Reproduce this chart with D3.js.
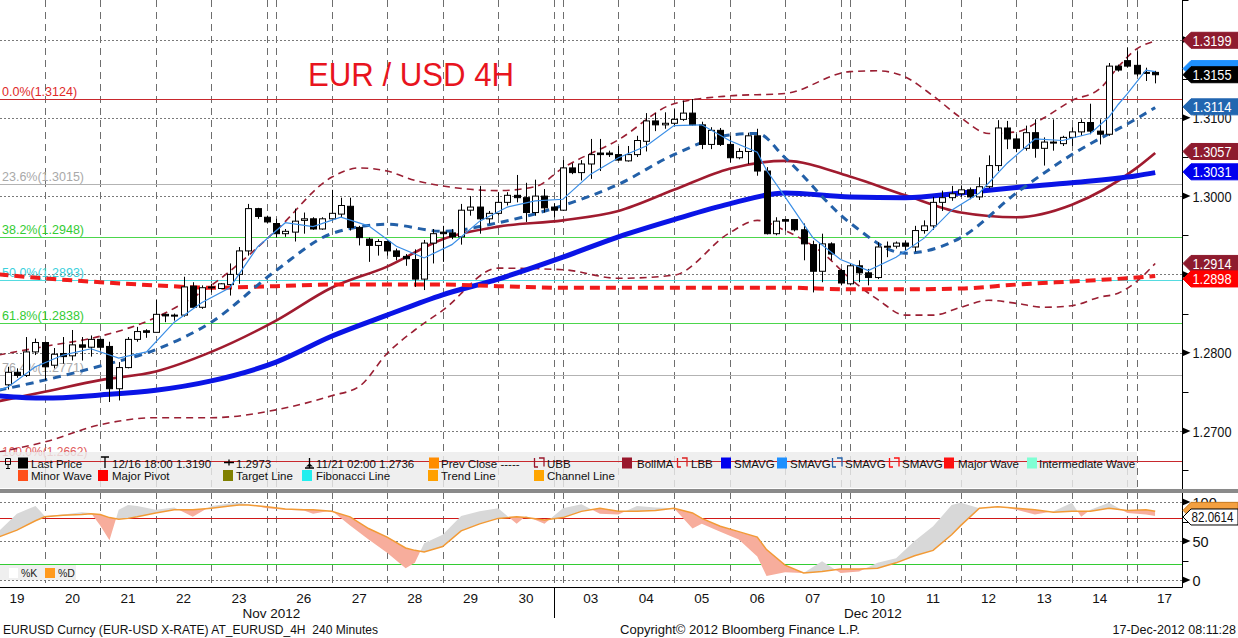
<!DOCTYPE html>
<html>
<head>
<meta charset="utf-8">
<script src="https://cdn.jsdelivr.net/npm/d3@7/dist/d3.min.js"></script>
<style>
html,body{margin:0;padding:0;background:#fff;overflow:hidden;}
svg{display:block;}
text{font-family:"Liberation Sans",Arial,sans-serif;}
</style>
</head>
<body>
<svg id="chart" width="1238" height="638"></svg>
<script>
// ================= DATA =================
const firstBar = -4; // bar index of first candle (index 0 = first bar of Nov 20)
const opens = [
1.2759,1.2775,1.2771,1.2801,1.2813,1.2784,1.2799,1.2796,1.2810,1.2807,
1.2817,1.2808,1.2754,1.2781,1.2817,1.2828,1.2826,1.2849,1.2848,1.2848,
1.2885,1.2858,1.2884,1.2882,1.2887,1.2900,1.2930,1.2984,1.2973,1.2965,
1.2952,1.2954,1.2969,1.2971,1.2958,1.2971,1.2977,1.2987,1.2960,1.2945,
1.2937,1.2942,1.2930,1.2923,1.2919,1.2894,1.2940,1.2954,1.2953,1.2948,
1.2982,1.2986,1.2971,1.2978,1.2992,1.3001,1.2998,1.2979,1.3000,1.2986,
1.2982,1.3036,1.3030,1.3041,1.3055,1.3055,1.3053,1.3045,1.3053,1.3070,
1.3096,1.3091,1.3093,1.3098,1.3106,1.3091,1.3066,1.3084,1.3066,1.3049,
1.3057,1.3077,1.3032,1.2952,1.2970,1.2970,1.2957,1.2938,1.2904,1.2939,
1.2905,1.2888,1.2911,1.2902,1.2896,1.2935,1.2936,1.2940,1.2935,1.2956,
1.2962,1.2992,1.2998,1.3003,1.3008,1.2999,1.3012,1.3039,1.3087,1.3073,
1.3061,1.3081,1.3061,1.3069,1.3067,1.3075,1.3082,1.3094,1.3083,1.3079,
1.3166,1.3173,1.3167,1.3158,1.3158];
const highs = [
1.2782,1.2780,1.2820,1.2818,1.2814,1.2806,1.2820,1.2829,1.2820,1.2822,
1.2818,1.2814,1.2788,1.2820,1.2833,1.2830,1.2868,1.2850,1.2850,1.2897,
1.2890,1.2886,1.2888,1.2889,1.2914,1.2935,1.2990,1.2985,1.2975,1.2971,
1.2958,1.2984,1.2979,1.2973,1.2973,1.3008,1.2998,1.2998,1.2962,1.2947,
1.2945,1.2943,1.2933,1.2926,1.2932,1.2944,1.2958,1.2962,1.2958,1.2990,
1.3000,1.3013,1.2981,1.3005,1.3005,1.3027,1.3017,1.3021,1.3009,1.2991,
1.3046,1.3042,1.3046,1.3073,1.3073,1.3058,1.3064,1.3064,1.3077,1.3106,
1.3106,1.3107,1.3111,1.3122,1.3124,1.3095,1.3088,1.3087,1.3077,1.3061,
1.3081,1.3086,1.3037,1.2973,1.2971,1.2970,1.2965,1.2943,1.2952,1.2941,
1.2907,1.2914,1.2918,1.2907,1.2941,1.2942,1.2942,1.2943,1.2962,1.2969,
1.2999,1.3007,1.3013,1.3013,1.3011,1.3024,1.3052,1.3097,1.3096,1.3079,
1.3090,1.3098,1.3075,1.3098,1.3077,1.3088,1.3098,1.3118,1.3098,1.3170,
1.3168,1.3190,1.3185,1.3164,1.3160];
const lows = [
1.2753,1.2768,1.2769,1.2797,1.2765,1.2780,1.2786,1.2790,1.2790,1.2795,
1.2803,1.2737,1.2739,1.2780,1.2814,1.2819,1.2826,1.2839,1.2841,1.2846,
1.2858,1.2856,1.2877,1.2881,1.2873,1.2888,1.2924,1.2971,1.2965,1.2947,
1.2948,1.2942,1.2952,1.2957,1.2957,1.2969,1.2973,1.2956,1.2937,1.2916,
1.2924,1.2924,1.2918,1.2911,1.2884,1.2880,1.2914,1.2916,1.2945,1.2938,
1.2975,1.2952,1.2965,1.2975,1.2988,1.2992,1.2967,1.2975,1.2979,1.2973,
1.2981,1.3028,1.3020,1.3022,1.3032,1.3050,1.3045,1.3044,1.3050,1.3057,
1.3083,1.3086,1.3090,1.3096,1.3090,1.3060,1.3060,1.3064,1.3043,1.3047,
1.3041,1.3026,1.2951,1.2950,1.2956,1.2955,1.2918,1.2877,1.2890,1.2918,
1.2886,1.2886,1.2890,1.2886,1.2894,1.2922,1.2933,1.2930,1.2929,1.2952,
1.2957,1.2981,1.2994,1.2999,1.2996,1.2995,1.3010,1.3032,1.3060,1.3056,
1.3058,1.3049,1.3039,1.3058,1.3064,1.3064,1.3077,1.3079,1.3066,1.3077,
1.3159,1.3164,1.3153,1.3147,1.3144];
const closes = [
1.2775,1.2771,1.2801,1.2813,1.2782,1.2798,1.2795,1.2810,1.2807,1.2817,
1.2807,1.2754,1.2781,1.2817,1.2827,1.2826,1.2849,1.2847,1.2847,1.2884,
1.2858,1.2883,1.2884,1.2888,1.2900,1.2930,1.2984,1.2974,1.2967,1.2952,
1.2955,1.2968,1.2971,1.2958,1.2971,1.2978,1.2988,1.2960,1.2947,1.2937,
1.2942,1.2930,1.2923,1.2920,1.2894,1.2940,1.2952,1.2952,1.2948,1.2982,
1.2986,1.2971,1.2978,1.2992,1.3001,1.2998,1.2979,1.3000,1.2985,1.2982,
1.3036,1.3030,1.3041,1.3053,1.3053,1.3053,1.3046,1.3053,1.3071,1.3096,
1.3091,1.3093,1.3098,1.3106,1.3091,1.3066,1.3084,1.3066,1.3049,1.3057,
1.3077,1.3032,1.2952,1.2968,1.2968,1.2957,1.2939,1.2904,1.2939,1.2926,
1.2889,1.2911,1.2902,1.2896,1.2935,1.2936,1.2940,1.2936,1.2956,1.2962,
1.2992,1.2998,1.3003,1.3008,1.2999,1.3012,1.3039,1.3087,1.3073,1.3061,
1.3081,1.3061,1.3069,1.3068,1.3075,1.3082,1.3094,1.3083,1.3079,1.3166,
1.3161,1.3166,1.3156,1.3157,1.3155];

// x axis
const dayLabels = ["19","20","21","22","23","26","27","28","29","30","03","04","05","06","07","10","11","12","13","14","17"];
const dayStarts = [-6,0,6,12,18,25,31,37,43,49,56,62,68,74,80,87,93,99,105,111,118];
const sundayBars = [24,55,86,117];
const monthLabels = ["Nov 2012","Dec 2012"];
const monthStart = [-6,55];
const monthEnd = [55,124];

// y axes
const priceTicks = [1.27,1.28,1.29,1.30,1.31,1.32];
const priceTickLabels = ["1.2700","1.2800","1.2900","1.3000","1.3100","1.3200"];
const priceMinorTicks = [1.265,1.275,1.285,1.295,1.305,1.315,1.325];
const stochTicks = [0,50,100];
const stochTickLabels = ["0","50","100"];
const stochMinorTicks = [25,75];
const stochBands = [80,20];

// Fibonacci retracement
const fibNames = ["0.0%","23.6%","38.2%","50.0%","61.8%","76.4%","100.0%"];
const fibPrices = [1.3124,1.3015,1.2948,1.2893,1.2838,1.2771,1.2662];

// Studies (at bar indices)
const maIdx = [-5,0,6,12,18,25,31,37,43,49,56,62,68,74,80,87,93,99,105,111,118,120];
const smaLong = [1.2745,1.2742,1.2746,1.2752,1.2764,1.2788,1.2821,1.2848,1.2874,1.2894,1.2922,1.2948,1.2970,1.2990,1.3004,1.2999,1.2998,1.3004,1.3011,1.3017,1.3026,1.3030];
const bollMA = [1.2738,1.2750,1.2765,1.2776,1.2801,1.2841,1.2883,1.2910,1.2945,1.2961,1.2969,1.2981,1.3008,1.3035,1.3045,1.3025,1.3001,1.2979,1.2973,1.2989,1.3036,1.3055];
const smaRed = [1.2900,1.2895,1.2890,1.2886,1.2883,1.2885,1.2887,1.2887,1.2887,1.2885,1.2883,1.2883,1.2883,1.2883,1.2883,1.2881,1.2881,1.2882,1.2887,1.2891,1.2896,1.2898];

const midIdx = [-5,0,6,12,18,25,31,37,43,49,56,62,68,74,77,80,87,93,99,105,111,118,120];
const smaMid = [1.2752,1.2765,1.2783,1.2804,1.2839,1.2905,1.2952,1.2964,1.2955,1.2966,1.2988,1.3015,1.3053,1.3078,1.3080,1.3049,1.2966,1.2927,1.2947,1.3004,1.3053,1.3099,1.3113];

const ubbIdx = [-5,0,6,12,18,25,31,34,37,40,43,49,53,56,62,68,74,80,87,90,93,96,99,102,105,108,111,114,116,118,120];
const ubb = [1.2797,1.2808,1.2821,1.2845,1.2886,1.2956,1.3024,1.3036,1.3032,1.3020,1.3013,1.3007,1.3012,1.3036,1.3072,1.3118,1.3128,1.3131,1.3159,1.3160,1.3152,1.3128,1.3100,1.3080,1.3082,1.3100,1.3122,1.3137,1.3165,1.3188,1.3198];

const lbbIdx = [-5,0,6,12,18,25,31,34,37,40,43,49,56,62,68,74,77,80,84,87,90,93,96,99,102,105,108,111,114,116,118,120];
const lbb = [1.2673,1.2686,1.2708,1.2717,1.2717,1.2727,1.2745,1.2757,1.2799,1.2829,1.2854,1.2908,1.2906,1.2895,1.2899,1.2953,1.2969,1.2956,1.2928,1.2895,1.2868,1.2848,1.2848,1.2858,1.2867,1.2863,1.2858,1.2860,1.2871,1.2876,1.2891,1.2914];

const fastIdx = [-5,-4,-1,2,5,8,11,14,17,20,23,26,29,32,35,38,41,44,47,50,53,56,59,62,65,68,71,74,77,78,80,83,86,89,92,95,98,101,104,107,110,113,115,116,117,119,120];
const smaFast = [1.2752,1.2756,1.2782,1.2797,1.2805,1.2793,1.2801,1.2839,1.2864,1.2883,1.2935,1.2966,1.2961,1.2973,1.2962,1.2936,1.2921,1.2938,1.2968,1.2986,1.2994,1.2996,1.3028,1.3049,1.3064,1.3090,1.3091,1.3071,1.3056,1.3033,1.2999,1.2947,1.2919,1.2905,1.2922,1.2946,1.2982,1.3004,1.3042,1.3073,1.3071,1.3080,1.3101,1.3117,1.3131,1.3161,1.3159];

// Stochastics
const stochIdx = [-5,-3,-1,0,2,4,5,6,7,8,9,10,12,14,16,18,20,21,22,24,26,28,29,31,33,35,37,39,40,41,43,45,47,49,51,52,54,56,58,60,62,64,66,68,70,71,73,75,77,78,80,82,84,86,88,90,92,94,96,98,99,101,103,105,107,109,111,112,113,115,117,119,120];
const stochD = [55,64,76,81,83,84,85,84,80,78, 79,81,86,90,90,92,95,96,96,94, 91,90,90,88,81,66,55,41,38,36, 43,63,72,79,81,80,77,80,88,92, 88,88,89,92,86,79,69,62,55,39, 19,9,11,14,14,15,22,31,38,58, 70,92,94,92,90,87,88,88,88,92, 89,90,88];
const stochK = [62,85,95,82,84,87,86,70,51,90, 96,95,90,93,81,95,98,99,97,92, 90,89,85,89,70,52,35,15,22,47, 58,82,88,92,72,82,72,92,97,85, 84,95,93,92,66,72,62,52,30,5, 10,9,24,9,11,22,28,50,69,96, 99,92,95,90,84,88,99,81,90,99, 86,84,82.0614];

// Right-side value tags
const hiddenTagValue = 1.3159;           // SMAVG (fast) tag, mostly hidden under last price
const tagValues = [1.3199,1.3155,1.3114,1.3057,1.3031,1.2914,1.2898];
const tagFills  = ["#8e1b2e","#000000","#2166b0","#8e1b2e","#0000ee","#8e1b2e","#ff0000"];

// Legend entries
const legend1Text = ["Last Price","12/16 18:00 1.3190","1.2973","11/21 02:00 1.2736","Prev Close -----","UBB","BollMA","LBB","SMAVG","SMAVG","SMAVG","SMAVG","Major Wave","Intermediate Wave"];
const legend2Text = ["Minor Wave","Major Pivot","Target Line","Fibonacci Line","Trend Line","Channel Line"];

// ================= LAYOUT / DRAW =================
const svg = d3.select("#chart");
const AX = 1182.5;
const x = d3.scaleLinear().domain([0,118]).range([44.7,1136.7]);
const y = d3.scaleLinear().domain([1.27,1.32]).range([431,39.5]);
const ys = d3.scaleLinear().domain([0,100]).range([580,502]);
const snap = v => Math.round(v)+0.5;

const defs = svg.append("defs");
defs.append("clipPath").attr("id","cm").append("rect").attr("x",0).attr("y",0).attr("width",AX).attr("height",489);
defs.append("clipPath").attr("id","cl").append("rect").attr("x",0).attr("y",493).attr("width",AX).attr("height",94);

svg.append("rect").attr("width",1238).attr("height",638).attr("fill","#fff");

svg.append("g").selectAll("line").data(priceTicks).join("line")
  .attr("x1",0).attr("x2",AX).attr("y1",d=>snap(y(d))).attr("y2",d=>snap(y(d)))
  .attr("stroke","#7a7a7a").attr("stroke-dasharray","2,2");
svg.append("g").selectAll("line").data(stochTicks).join("line")
  .attr("x1",0).attr("x2",AX).attr("y1",d=>snap(ys(d))).attr("y2",d=>snap(ys(d)))
  .attr("stroke","#7a7a7a").attr("stroke-dasharray","2,2");

const gridIdx = dayStarts.filter(d=>d>=0).concat(sundayBars);
svg.append("g").selectAll("line").data(gridIdx).join("line")
  .attr("x1",d=>snap(x(d))).attr("x2",d=>snap(x(d))).attr("y1",0).attr("y2",587)
  .attr("stroke","#6e6e6e").attr("stroke-dasharray","7,5");

// Fibonacci lines + labels
const fibLine = ["#c8282d","#b3b3b3","#4cd64c","#55dbe0","#4cd64c","#b3b3b3","#c8282d"];
const fibTxt  = ["#e02a2a","#a9a9a9","#33cc33","#3cd0dc","#33cc33","#a9a9a9","#e05a5a"];
const fg = svg.append("g");
fg.selectAll("line").data(fibPrices.slice(0,6)).join("line")
  .attr("x1",0).attr("x2",AX).attr("y1",d=>snap(y(d))).attr("y2",d=>snap(y(d)))
  .attr("stroke",(d,i)=>fibLine[i]).attr("stroke-width",1);
fg.selectAll("text").data(fibPrices).join("text")
  .attr("x",2).attr("y",(d,i)=>y(d)-(i===6?5:3)).attr("font-size",(d,i)=>i===6?12:12.5)
  .attr("fill",(d,i)=>fibTxt[i])
  .text((d,i)=>fibNames[i]+"("+d3.format(".4f")(d)+")");

// Title
svg.append("text").attr("x",308).attr("y",86).attr("font-size",34).attr("fill","#e8141e")
  .attr("textLength",206).attr("lengthAdjust","spacingAndGlyphs").text("EUR / USD 4H");

// ---- main plot content ----
const gm = svg.append("g").attr("clip-path","url(#cm)");
const pts = (idx,vals)=>idx.map((d,i)=>[d,vals[i]]);
const lineP = d3.line().x(d=>x(d[0])).y(d=>y(d[1])).curve(d3.curveMonotoneX);
const lineLin = d3.line().x(d=>x(d[0])).y(d=>y(d[1]));

gm.append("path").attr("d",lineP(pts(lbbIdx,lbb))).attr("fill","none").attr("stroke","#9a1f33").attr("stroke-width",1.6).attr("stroke-dasharray","7,5");
gm.append("path").attr("d",lineP(pts(ubbIdx,ubb))).attr("fill","none").attr("stroke","#9a1f33").attr("stroke-width",1.6).attr("stroke-dasharray","7,5");
gm.append("path").attr("d",lineP(pts(maIdx,bollMA))).attr("fill","none").attr("stroke","#a01b2f").attr("stroke-width",2.6);
gm.append("path").attr("d",lineP(pts(maIdx,smaLong))).attr("fill","none").attr("stroke","#0a14e6").attr("stroke-width",5);
gm.append("path").attr("d",lineP(pts(maIdx,smaRed))).attr("fill","none").attr("stroke","#f01c1c").attr("stroke-width",4).attr("stroke-dasharray","10,6");
gm.append("path").attr("d",lineP(pts(midIdx,smaMid))).attr("fill","none").attr("stroke","#2360a8").attr("stroke-width",3).attr("stroke-dasharray","8,6");

// candles
const bars = opens.map((o,k)=>({i:firstBar+k,o,h:highs[k],l:lows[k],c:closes[k]}));
const cg = gm.append("g");
cg.selectAll("line").data(bars).join("line")
  .attr("x1",d=>snap(x(d.i))).attr("x2",d=>snap(x(d.i)))
  .attr("y1",d=>y(d.h)).attr("y2",d=>y(d.l)).attr("stroke","#000").attr("stroke-width",1);
cg.selectAll("rect").data(bars).join("rect")
  .attr("x",d=>Math.round(x(d.i))-2.5).attr("width",6)
  .attr("y",d=>y(Math.max(d.o,d.c))).attr("height",d=>Math.max(1,Math.abs(y(d.o)-y(d.c))))
  .attr("fill",d=>d.c>=d.o?"#fff":"#000").attr("stroke","#000").attr("stroke-width",1);

gm.append("path").attr("d",lineLin(pts(fastIdx,smaFast))).attr("fill","none").attr("stroke","#3a8ee6").attr("stroke-width",1.2);

// ---- legend ----
svg.append("rect").attr("x",0).attr("y",452).attr("width",1137).attr("height",36).attr("fill","rgba(236,236,236,0.82)");
svg.append("line").attr("x1",0).attr("x2",AX).attr("y1",snap(y(fibPrices[6]))).attr("y2",snap(y(fibPrices[6])))
  .attr("stroke",fibLine[6]).attr("stroke-width",1);

const lg = svg.append("g").attr("font-size",11.5).attr("fill","#111");
const r1 = 467.5, r2 = 480;
const l1x = [31,112,236,316,441,547,637,691,734,790,845,902,958,1039];
lg.selectAll(".t1").data(legend1Text).join("text").attr("x",(d,i)=>l1x[i]).attr("y",r1).text(d=>d);
const l2x = [31,112,236,316,441,547];
lg.selectAll(".t2").data(legend2Text).join("text").attr("x",(d,i)=>l2x[i]).attr("y",r2).text(d=>d);
const sq1 = [[18,"#000000"],[429,"#ff8c00"],[622,"#99172c"],[721,"#0000ee"],[777,"#1e90ff"],[944,"#ff1010"],[1027,"#7fffd4"]];
lg.selectAll(".s1").data(sq1).join("rect").attr("x",d=>d[0]).attr("y",r1-10).attr("width",10).attr("height",11).attr("fill",d=>d[1]);
const sq2 = [[18,"#ff4f1a"],[98,"#ff0000"],[223,"#808000"],[302,"#22eeee"],[428,"#ffa000"],[534,"#ffa500"]];
lg.selectAll(".s2").data(sq2).join("rect").attr("x",d=>d[0]).attr("y",r2-10).attr("width",10).attr("height",11).attr("fill",d=>d[1]);
const br = [[534,"#99172c"],[677,"#dd2020"],[832,"#2360a8"],[889,"#ff1010"]];
lg.selectAll(".b").data(br).join("path")
  .attr("d",d=>`M${d[0]+0.5},${r1-0.5} V${r1-9.5} M${d[0]},${r1-0.5} H${d[0]+4} M${d[0]+5},${r1-9.5} H${d[0]+10} V${r1-1}`)
  .attr("stroke",d=>d[1]).attr("stroke-width",1.3).attr("fill","none");
lg.append("path").attr("d",`M5.5,${r1-9} h5 v6 h-5 z M8,${r1-3} v4 M6,${r1+1} h4`).attr("stroke","#000").attr("fill","none");
lg.append("path").attr("d",`M101,${r1-10.5} h8 M105,${r1-10.5} v11`).attr("stroke","#000").attr("stroke-width",1.3).attr("fill","none");
lg.append("path").attr("d",`M224,${r1-5} h10 M229,${r1-8} v6`).attr("stroke","#000").attr("stroke-width",1.3).attr("fill","none");
lg.append("path").attr("d",`M305,${r1+0.5} h9 M309.5,${r1+0.5} v-10`).attr("stroke","#000").attr("stroke-width",1.3).attr("fill","none");
lg.append("path").attr("d",`M306,${r1-1} l3.5,-3 l3.5,3 z`).attr("fill","#000");

// separator bar
svg.append("rect").attr("x",0).attr("y",489).attr("width",1238).attr("height",4).attr("fill","#8a8a8a");

// ---- stochastic panel ----
const gl = svg.append("g").attr("clip-path","url(#cl)");
gl.selectAll(".band").data(stochBands).join("line")
  .attr("x1",0).attr("x2",AX).attr("y1",d=>snap(ys(d))).attr("y2",d=>snap(ys(d)))
  .attr("stroke",(d,i)=>i===0?"#d01818":"#33cc33").attr("stroke-width",1);
const sp = stochIdx.map((d,i)=>({i:d,k:stochK[i],d:stochD[i]}));
defs.append("clipPath").attr("id","aboveD").append("path")
  .attr("d",d3.area().x(d=>x(d.i)).y0(493).y1(d=>ys(d.d))(sp));
defs.append("clipPath").attr("id","belowD").append("path")
  .attr("d",d3.area().x(d=>x(d.i)).y0(d=>ys(d.d)).y1(590)(sp));
const kdArea = d3.area().x(d=>x(d.i)).y0(d=>ys(d.k)).y1(d=>ys(d.d));
gl.append("g").attr("clip-path","url(#aboveD)").append("path").attr("d",kdArea(sp)).attr("fill","#d8d8d8");
gl.append("g").attr("clip-path","url(#belowD)").append("path").attr("d",kdArea(sp)).attr("fill","#f7ad9c");
gl.append("path").attr("d",d3.line().x(d=>x(d.i)).y(d=>ys(d.d))(sp)).attr("fill","none").attr("stroke","#f29a35").attr("stroke-width",1.5);
const sl = svg.append("g");
sl.append("rect").attr("x",0).attr("y",565).attr("width",76).attr("height",15).attr("fill","#efefef");
sl.append("rect").attr("x",9).attr("y",568).attr("width",9).attr("height",10).attr("fill","#ffffff");
sl.append("rect").attr("x",45).attr("y",568).attr("width",10).attr("height",10).attr("fill","#ff9a1e");
sl.append("text").attr("x",21).attr("y",577).attr("font-size",10.5).attr("fill","#222").text("%K");
sl.append("text").attr("x",58).attr("y",577).attr("font-size",10.5).attr("fill","#222").text("%D");

// ---- axes ----
const axg = svg.append("g");
axg.append("line").attr("x1",AX).attr("x2",AX).attr("y1",0).attr("y2",489).attr("stroke","#000");
axg.append("line").attr("x1",AX).attr("x2",AX).attr("y1",493).attr("y2",587.5).attr("stroke","#000");
axg.append("line").attr("x1",0).attr("x2",AX).attr("y1",587.5).attr("y2",587.5).attr("stroke","#000");
axg.selectAll(".mt").data(priceMinorTicks).join("line")
  .attr("x1",AX).attr("x2",AX+6).attr("y1",d=>snap(y(d))).attr("y2",d=>snap(y(d))).attr("stroke","#000");
axg.selectAll(".mt2").data(stochMinorTicks).join("line")
  .attr("x1",AX).attr("x2",AX+6).attr("y1",d=>snap(ys(d))).attr("y2",d=>snap(ys(d))).attr("stroke","#000");
const tri = v=>`M${AX},${v-3.5} L${AX+8},${v} L${AX},${v+3.5} Z`;

// tag positions with collision avoidance (overlapping tags are stacked)
const tagPos = tagValues.map(v=>y(v));
for(let i=1;i<tagPos.length;i++){ if(tagPos[i]-tagPos[i-1]<15.5) tagPos[i]=tagPos[i-1]+15.5; }

axg.selectAll(".mj").data(priceTicks).join("path").attr("d",d=>tri(y(d))).attr("fill","#000");
const visibleTicks = priceTicks.map((d,i)=>({v:d,t:priceTickLabels[i]}))
  .filter(o=>!tagPos.some(p=>Math.abs(p-y(o.v))<8));
axg.selectAll(".lb").data(visibleTicks).join("text")
  .attr("x",AX+10).attr("y",d=>y(d.v)+5.5).attr("font-size",14.5).attr("fill","#111")
  .attr("textLength",39).attr("lengthAdjust","spacingAndGlyphs").text(d=>d.t);
axg.selectAll(".mj2").data(stochTicks).join("path").attr("d",d=>tri(ys(d))).attr("fill","#000");
axg.selectAll(".lb2").data(stochTicks).join("text")
  .attr("x",AX+10).attr("y",d=>ys(d)+5.5).attr("font-size",14.5).attr("fill","#111")
  .text((d,i)=>stochTickLabels[i]);

// value tags
const tagPath = v=>`M${AX+0.5},${v} L${AX+8.5},${v-8} L1238,${v-8} L1238,${v+8} L${AX+8.5},${v+8} Z`;
const tg = svg.append("g");
tg.append("path").attr("d",tagPath(y(hiddenTagValue)-3)).attr("fill","#1e90ff").attr("stroke","#1e90ff");
tagValues.forEach((v,i)=>{
  const cy = tagPos[i];
  tg.append("path").attr("d",tagPath(cy)).attr("fill",tagFills[i]).attr("stroke",tagFills[i]);
  tg.append("text").attr("x",AX+10).attr("y",cy+5.5).attr("font-size",14.5)
    .attr("textLength",39).attr("lengthAdjust","spacingAndGlyphs")
    .attr("fill","#fff").text(d3.format(".4f")(v));
});
const lastD = stochD[stochD.length-1], lastK = stochK[stochK.length-1];
tg.append("path").attr("d",tagPath(ys(lastD)-1)).attr("fill","#f4a040").attr("stroke","#c77a20");
tg.append("path").attr("d",tagPath(ys(lastK)+1)).attr("fill","#fff").attr("stroke","#000");
tg.append("text").attr("x",AX+9).attr("y",ys(lastK)+6.5).attr("font-size",14)
  .attr("textLength",42).attr("lengthAdjust","spacingAndGlyphs")
  .attr("fill","#111").text(d3.format(".4f")(lastK));

// date labels
svg.append("g").selectAll("text").data(dayLabels).join("text")
  .attr("text-anchor","middle").attr("font-size",13.5).attr("fill","#111")
  .attr("x",(d,i)=>x(dayStarts[i]+3)).attr("y",603).text(d=>d);
svg.append("g").selectAll("text").data(monthLabels).join("text")
  .attr("text-anchor","middle").attr("font-size",13.5).attr("fill","#111")
  .attr("x",(d,i)=>(x(monthStart[i])+x(monthEnd[i]))/2).attr("y",618).text(d=>d);
svg.append("line").attr("x1",snap(x(monthStart[1]))).attr("x2",snap(x(monthStart[1]))).attr("y1",587).attr("y2",618).attr("stroke","#000");

// footer
const ft = svg.append("g").attr("font-size",12.5).attr("fill","#111");
ft.append("text").attr("x",3).attr("y",634).style("white-space","pre").attr("textLength",375).attr("lengthAdjust","spacingAndGlyphs")
  .text("EURUSD Curncy (EUR-USD X-RATE) AT_EURUSD_4H  240 Minutes");
ft.append("text").attr("x",620).attr("y",634).attr("textLength",240).attr("lengthAdjust","spacingAndGlyphs")
  .text("Copyright\u00A9 2012 Bloomberg Finance L.P.");
ft.append("text").attr("x",1236).attr("y",634).attr("text-anchor","end")
  .text("17-Dec-2012 08:11:28");
</script>
</body>
</html>
